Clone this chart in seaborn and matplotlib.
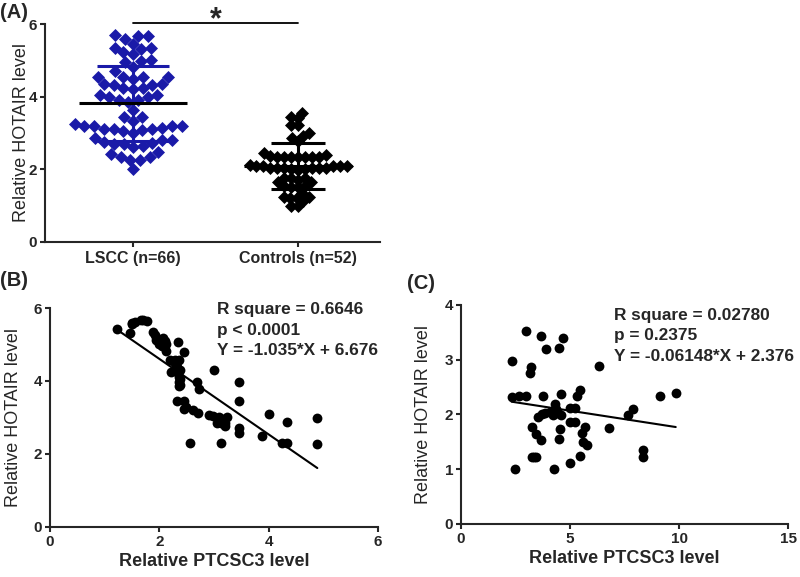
import numpy as np
import pandas as pd
import seaborn as sns
import matplotlib.pyplot as plt

# ---- data ----
# (A) HOTAIR levels per group
lscc_vals = [5.67, 5.59, 5.67, 5.69, 5.45, 5.35, 5.31, 5.22, 5.35, 5.17, 4.98, 4.96, 5.01,
             4.82, 4.70,
             4.55, 4.55, 4.55, 4.55, 4.48, 4.35, 4.33, 4.32, 4.35, 4.25, 4.24, 4.21,
             4.04, 4.00, 3.92, 3.92, 3.98, 4.04, 3.85, 3.62,
             3.45, 3.45, 3.34, 3.24,
             3.20, 3.20, 3.12, 3.10, 3.08, 3.20, 3.00, 3.05, 3.12, 3.15, 3.20,
             2.80, 2.75, 2.70, 2.62, 2.85, 2.65, 2.70, 2.72, 2.80,
             2.35, 2.27, 2.48, 2.42, 2.27, 2.35,
             2.02]
control_vals = [3.45, 3.56, 3.41, 3.22, 3.22, 2.92, 2.87, 2.99, 2.78,
                2.45, 2.37, 2.35, 2.35, 2.35, 2.35, 2.35, 2.35, 2.35, 2.40,
                2.10, 2.05, 2.08, 2.08, 2.05, 2.02, 2.02, 2.05, 1.98, 2.05, 2.05, 2.05, 2.08, 2.10, 2.12,
                1.77, 1.75, 1.65, 1.55, 1.50, 1.55, 1.50, 1.65, 1.72, 1.77,
                1.25, 1.23, 1.12, 1.00, 1.00, 1.22, 1.22, 1.35]
groups = ['LSCC (n=66)', 'Controls (n=52)']

# (B) LSCC: PTCSC3 vs HOTAIR
b_x = [1.23, 1.46, 1.50, 1.55, 1.66, 1.78, 1.88, 1.92, 1.96, 2.00, 2.07, 2.12, 2.13, 2.35, 2.45,
       2.20, 2.29, 2.36, 2.22, 2.33, 2.35, 2.36, 2.36, 2.36, 2.68, 2.73, 3.00, 3.46, 3.46, 2.33,
       2.45, 2.45, 2.62, 2.70, 2.90, 2.99, 3.10, 3.23, 3.12, 3.20, 3.17, 3.46, 3.46, 2.57, 3.12,
       3.87, 4.00, 4.34, 4.24, 4.34, 4.89, 4.89,
       1.50, 1.70, 1.93, 2.05, 2.10, 2.25, 2.30, 2.38, 2.38, 2.38, 3.05, 3.15, 3.20, 2.48]
b_y = [5.42, 5.32, 5.60, 5.63, 5.66, 5.64, 5.34, 5.25, 5.16, 5.00, 5.19, 5.02, 4.82, 5.07, 4.79,
       4.57, 4.57, 4.57, 4.25, 4.38, 4.22, 4.10, 3.97, 3.85, 3.97, 3.79, 4.30, 3.97, 3.44, 3.44,
       3.44, 3.22, 3.20, 3.12, 3.08, 3.05, 3.00, 3.00, 2.86, 2.78, 2.92, 2.71, 2.58, 2.31, 2.31,
       2.49, 3.10, 2.88, 2.31, 2.31, 2.99, 2.28,
       5.55, 5.66, 5.12, 4.95, 5.10, 4.55, 4.45, 4.30, 4.05, 3.90, 2.85, 2.95, 2.85, 3.30]
b_slope, b_icept = -1.035, 6.676

# (C) Controls: PTCSC3 vs HOTAIR
c_x = [2.35, 2.32, 2.67, 3.00, 2.98, 3.20, 3.16, 2.47, 3.66, 3.88, 3.77, 3.24, 3.44, 3.65, 3.24,
       3.44, 3.35, 3.54, 3.70, 3.85, 4.30, 4.23, 4.46, 4.61, 4.66, 4.49, 4.58, 4.53, 4.50, 4.26,
       4.99, 5.00, 5.22, 5.00, 5.22, 5.34, 5.48, 5.53, 5.68, 5.60, 5.76, 5.45, 6.34, 6.78, 7.66,
       7.89, 9.11, 9.85, 8.35, 8.35, 4.35, 4.10]
c_y = [2.98, 2.31, 2.33, 2.33, 3.53, 2.87, 2.76, 1.00, 3.44, 3.20, 2.33, 1.78, 1.64, 1.53, 1.23,
       1.23, 1.22, 1.96, 2.00, 2.03, 2.20, 1.99, 2.02, 1.99, 3.39, 3.22, 2.37, 1.73, 1.55, 1.00,
       1.11, 2.11, 2.11, 1.87, 1.87, 2.33, 2.45, 1.67, 1.78, 1.50, 1.44, 1.24, 2.89, 1.76, 1.99,
       2.10, 2.33, 2.40, 1.36, 1.23, 2.10, 2.05]
c_slope, c_icept = -0.06148, 2.376

sns.set_style("ticks")
plt.rcParams['font.family'] = ['Liberation Sans', 'DejaVu Sans']
plt.rcParams['font.weight'] = 'bold'
plt.rcParams['axes.linewidth'] = 1.5
plt.rcParams['xtick.major.width'] = 1.5
plt.rcParams['ytick.major.width'] = 1.5
plt.rcParams['xtick.major.size'] = 3.5
plt.rcParams['ytick.major.size'] = 3.5
plt.rcParams['xtick.major.pad'] = 2
plt.rcParams['ytick.major.pad'] = 2

fig = plt.figure(figsize=(8, 5.77), dpi=100)
axA = fig.add_axes([0.05625, 0.5806, 0.41875, 0.3778])
axB = fig.add_axes([0.0625, 0.0867, 0.41, 0.3795])
axC = fig.add_axes([0.57625, 0.0919, 0.40875, 0.3796])

blue = '#1a1aa8'

# ---- (A) ----
# each group gets its own swarm spacing; markers are enlarged afterwards (they overlap in the original)
sns.swarmplot(x=[groups[0]] * len(lscc_vals), y=lscc_vals, order=groups, color=blue,
              marker='D', size=6.8, linewidth=0, ax=axA)
sns.swarmplot(x=[groups[1]] * len(control_vals), y=control_vals, order=groups, color='black',
              marker='D', size=4.8, linewidth=0, ax=axA)
axA.set_xlim(-0.533, 1.497)
axA.set_ylim(0, 6)
fig.canvas.draw()
for coll in axA.collections:
    if 'draw' in coll.__dict__:
        del coll.draw
    coll.set_sizes([44])

for i, (vals, col, cap) in enumerate([(lscc_vals, blue, 0.22), (control_vals, 'black', 0.165)]):
    m, sd = np.mean(vals), np.std(vals, ddof=1)
    axA.vlines(i, m - sd, m + sd, color=col, lw=2.2, zorder=4)
    axA.hlines([m - sd, m + sd], i - cap, i + cap, color=col, lw=2.2, zorder=4)
    axA.hlines(m, i - 0.33, i + 0.33, color='black', lw=2.2, zorder=5)

axA.plot([0, 1], [6.04, 6.04], color='black', lw=1.3, clip_on=False)
axA.text(0.5, 5.88, '*', ha='center', va='baseline', fontsize=22, fontweight='bold',
         clip_on=False)
axA.set_yticks([0, 2, 4, 6])
axA.set_xlabel('')
axA.set_ylabel('Relative HOTAIR level', fontsize=13, fontweight='normal')
axA.yaxis.set_label_coords(-0.046, 0.5)
axA.tick_params(axis='x', labelsize=11.5, pad=3)
axA.tick_params(axis='y', labelsize=11)
sns.despine(ax=axA)

# ---- (B) ----
sns.scatterplot(x=b_x, y=b_y, color='black', s=50, edgecolor='black', linewidth=0, ax=axB)
bx_line = [min(b_x), max(b_x)]
sns.lineplot(x=bx_line, y=[b_slope * v + b_icept for v in bx_line], color='black', lw=1.5, ax=axB)
axB.set_xlim(0, 6)
axB.set_ylim(0, 6)
axB.set_xticks([0, 2, 4, 6])
axB.set_yticks([0, 2, 4, 6])
axB.set_xlabel('Relative PTCSC3 level', fontsize=13, fontweight='bold', labelpad=3)
axB.set_ylabel('Relative HOTAIR level', fontsize=13, fontweight='normal')
axB.yaxis.set_label_coords(-0.085, 0.5)
for k, s in enumerate(['R square = 0.6646', 'p < 0.0001', 'Y = -1.035*X + 6.676']):
    axB.text(0.509, 0.994 - 0.0945 * k, s, transform=axB.transAxes, ha='left', va='center',
             fontsize=12.4, fontweight='bold')

# ---- (C) ----
sns.scatterplot(x=c_x, y=c_y, color='black', s=50, edgecolor='black', linewidth=0, ax=axC)
cx_line = [min(c_x), max(c_x)]
sns.lineplot(x=cx_line, y=[c_slope * v + c_icept for v in cx_line], color='black', lw=1.5, ax=axC)
axC.set_xlim(0, 15)
axC.set_ylim(0, 4)
axC.set_xticks([0, 5, 10, 15])
axC.set_yticks([0, 1, 2, 3, 4])
axC.set_xlabel('Relative PTCSC3 level', fontsize=13, fontweight='bold', labelpad=3)
axC.set_ylabel('Relative HOTAIR level', fontsize=13, fontweight='normal')
axC.yaxis.set_label_coords(-0.089, 0.5)
for k, s in enumerate(['R square = 0.02780', 'p = 0.2375', 'Y = -0.06148*X + 2.376']):
    axC.text(0.468, 0.954 - 0.0955 * k, s, transform=axC.transAxes, ha='left', va='center',
             fontsize=12.4, fontweight='bold')

for ax in (axB, axC):
    ax.tick_params(labelsize=11)
    sns.despine(ax=ax)

fig.text(0.0, 1 - 12 / 577, '(A)', fontsize=14.5, fontweight='bold', ha='left', va='center')
fig.text(0.0, 1 - 281 / 577, '(B)', fontsize=14.5, fontweight='bold', ha='left', va='center')
fig.text(0.509, 1 - 283 / 577, '(C)', fontsize=14.5, fontweight='bold', ha='left', va='center')

fig.savefig('out.png', dpi=100)
